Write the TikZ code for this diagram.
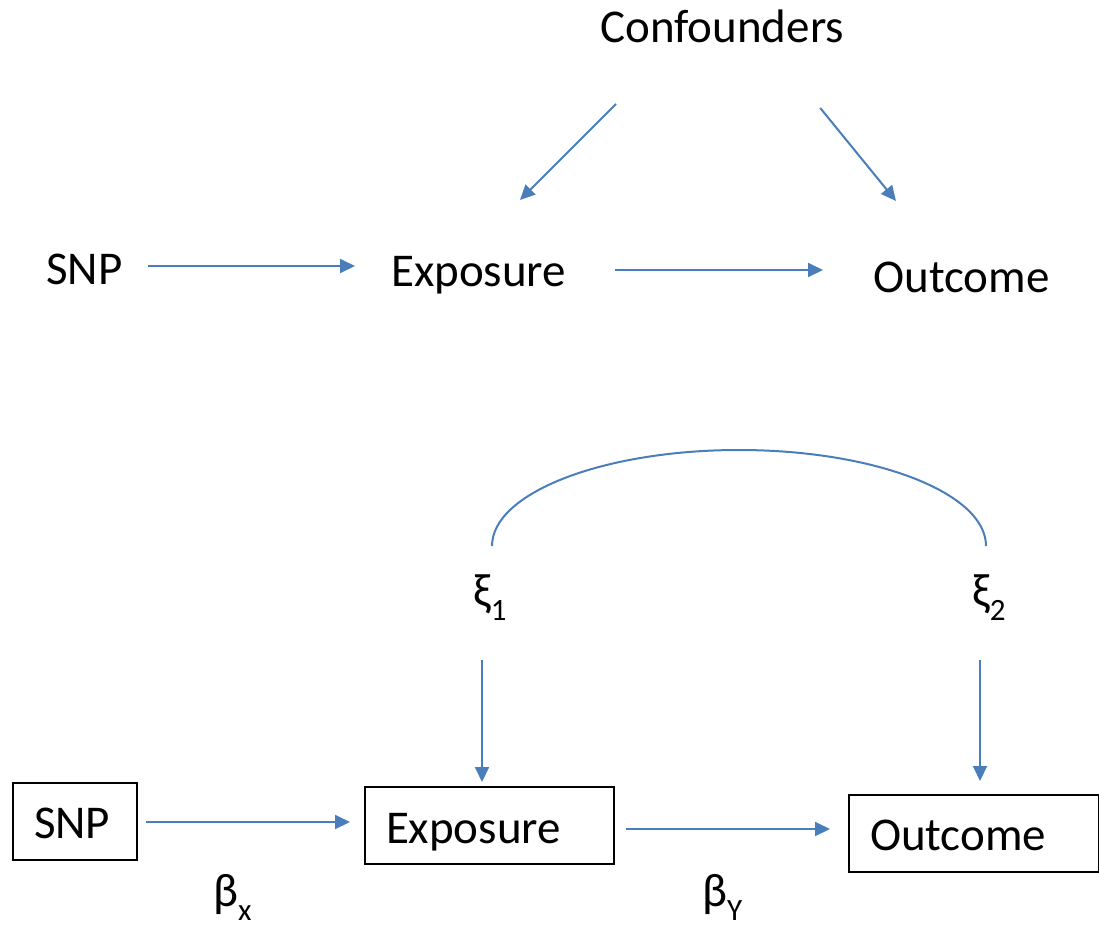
\documentclass[tikz,border=0pt]{standalone}
\usepackage{fontspec}
\setmainfont{Carlito}
\usetikzlibrary{arrows.meta,calc}
\definecolor{linkblue}{RGB}{74,126,187}
\newcommand{\mysub}[1]{\raisebox{-14pt}[0pt][0pt]{\fontsize{31}{31}\selectfont #1}}
\tikzset{
  lbl/.style={inner sep=0pt, anchor=base west, font=\fontsize{47}{56}\selectfont},
  boxnode/.style={draw=black, line width=2pt, inner xsep=21pt, inner ysep=0pt,
    align=left, anchor=north west, font=\fontsize{47}{56}\selectfont},
  arr/.style={draw=linkblue, line width=2pt, -{Triangle[length=15pt,width=14pt]}},
  conn/.style={draw=linkblue, line width=2pt}
}
\begin{document}
\begin{tikzpicture}[x=1pt,y=-1pt]
\useasboundingbox (0,0) rectangle (1099,925);
% top diagram
\node[lbl] (conf) at (600,43) {Confounders};
\node[lbl] (snp1) at (46,284) {SNP};
\node[lbl] (exp1) at (391,286) {Exposure};
\node[lbl] (out1) at (873,292) {Outcome};
\draw[arr] ($(snp1.base east)+(25,-18)$) -- ($(exp1.base west)+(-36,-20)$);
\draw[arr] ($(exp1.base east)+(49,-16)$) -- ($(out1.base west)+(-50,-22)$);
\draw[arr] ($(conf.base west)+(16,61)$) -- ($(exp1.base west)+(129,-86)$);
\draw[arr] ($(conf.base east)+(-24,65)$) -- ($(out1.base west)+(23,-91)$);
% bottom diagram
\node[boxnode, text width=82pt, text height=55pt, text depth=22pt] (snp2) at (12,782) {SNP};
\node[boxnode, text width=207pt, text height=56pt, text depth=21pt] (exp2) at (364,786) {Exposure};
\node[boxnode, text width=208pt, text height=55pt, text depth=22pt] (out2) at (848,794) {Outcome};
\node[lbl] (xi1) at (473,606) {ξ\mysub{1}};
\node[lbl] (xi2) at (972,606) {ξ\mysub{2}};
\node[lbl] (bx) at (213,906) {β\mysub{x}};
\node[lbl] (by) at (702,906) {β\mysub{Y}};
\draw[arr] ([xshift=8pt,yshift=-0.5pt]snp2.east) -- ([xshift=-14pt,yshift=3.5pt]exp2.west);
\draw[arr] ([xshift=11pt,yshift=-3.5pt]exp2.east) -- ([xshift=-18pt,yshift=4.5pt]out2.west);
\coordinate (s1) at ($(xi1.base west)+(9,54)$);
\coordinate (s2) at ($(xi2.base west)+(8,54)$);
\draw[arr] (s1) -- ([yshift=4pt]s1 |- exp2.north);
\draw[arr] (s2) -- ([yshift=13pt]s2 |- out2.north);
\coordinate (a1) at ($(xi1.base west)+(19,-60)$);
\coordinate (a2) at ($(xi2.base west)+(14,-60)$);
\coordinate (atop) at ($(a1)!0.5!(a2)+(0,-96)$);
\draw[conn] (a1) .. controls +(0,-53) and +(-136,0) .. (atop)
            .. controls +(136,0) and +(0,-53) .. (a2);
\end{tikzpicture}
\end{document}
